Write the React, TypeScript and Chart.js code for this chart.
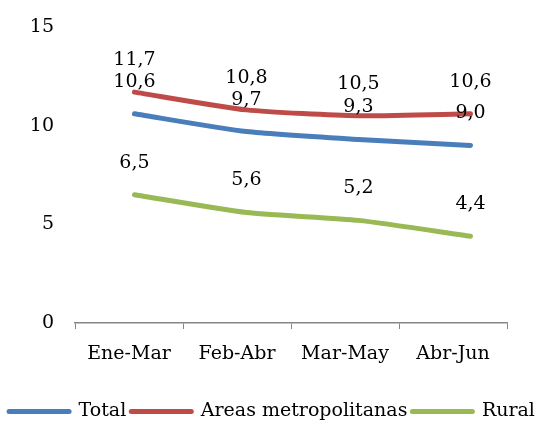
import React, { useEffect, useRef } from "react";
import { Chart, registerables } from "chart.js";

Chart.register(...registerables);

const categories = ["Ene-Mar", "Feb-Abr", "Mar-May", "Abr-Jun"];
const totalValues = [10.6, 9.7, 9.3, 9.0];
const metroValues = [11.7, 10.8, 10.5, 10.6];
const ruralValues = [6.5, 5.6, 5.2, 4.4];
const seriesNames = ["Total", "Areas metropolitanas", "Rural"];
const yTicks = [0, 5, 10, 15];

const FONT = "'DejaVu Serif', serif";
const COLORS = ["#4A7EBB", "#BE4B48", "#98B954"];

const labelPlugin = {
  id: "valueLabels",
  afterDatasetsDraw(chart: any) {
    const ctx = chart.ctx;
    ctx.save();
    ctx.font = `19px ${FONT}`;
    ctx.fillStyle = "#000";
    ctx.textAlign = "center";
    ctx.textBaseline = "middle";
    chart.data.datasets.forEach((ds: any, di: number) => {
      const meta = chart.getDatasetMeta(di);
      meta.data.forEach((el: any, i: number) => {
        const v = ds.data[i].y;
        ctx.fillText(v.toFixed(1).replace(".", ","), el.x, el.y - 32);
      });
    });
    ctx.restore();
  },
};

export default function App() {
  const ref = useRef<HTMLCanvasElement | null>(null);
  useEffect(() => {
    document.body.style.margin = "0";
    const mk = (vals: number[]) => vals.map((v, i) => ({ x: i, y: v }));
    const all = [totalValues, metroValues, ruralValues];
    const chart = new Chart(ref.current!, {
      type: "line",
      data: {
        labels: categories,
        datasets: all.map((vals, k) => ({
          label: seriesNames[k],
          data: mk(vals),
          xAxisID: "x2",
          borderColor: COLORS[k],
          backgroundColor: COLORS[k],
          borderWidth: 5,
          borderCapStyle: "round",
          pointRadius: 0,
          tension: 0.2,
          fill: false,
        })),
      } as any,
      options: {
        animation: false,
        responsive: false,
        layout: { padding: { top: 27, right: 0, left: 0, bottom: -7 } },
        scales: {
          x: {
            type: "category",
            offset: true,
            grid: {
              display: true,
              drawOnChartArea: false,
              drawTicks: true,
              tickLength: 6,
              color: "#868686",
              offset: true,
            },
            border: { display: true, color: "#868686", width: 1.5 },
            ticks: { color: "#000", font: { family: FONT, size: 19 }, padding: 14 },
            afterFit: (axis: any) => {
              axis.height = 74;
            },
          },
          x2: {
            type: "linear",
            display: false,
            min: -0.531,
            max: 3.326,
          },
          y: {
            min: 0,
            max: 15,
            grid: { display: false, drawTicks: false },
            border: { display: false },
            afterBuildTicks: (axis: any) => {
              axis.ticks = yTicks.map((v) => ({ value: v }));
            },
            ticks: { color: "#000", font: { family: FONT, size: 19 }, padding: 21 },
            afterFit: (axis: any) => {
              axis.width = 75;
              axis.paddingTop = 0;
              axis.paddingBottom = 0;
            },
          },
          yR: {
            position: "right",
            display: true,
            min: 0,
            max: 15,
            grid: { display: false, drawTicks: false },
            border: { display: false },
            ticks: { display: false },
            afterFit: (axis: any) => {
              axis.width = 37;
              axis.paddingTop = 0;
              axis.paddingBottom = 0;
            },
          },
        },
        plugins: {
          tooltip: { enabled: false },
          legend: {
            position: "bottom",
            labels: {
              color: "#000",
              font: { family: FONT, size: 19 },
              padding: 5,
              usePointStyle: true,
              pointStyleWidth: 60,
              generateLabels: (chart: any) =>
                chart.data.datasets.map((ds: any, i: number) => ({
                  text: ds.label,
                  fillStyle: ds.borderColor,
                  strokeStyle: ds.borderColor,
                  lineWidth: 5,
                  lineCap: "round",
                  pointStyle: "line",
                  datasetIndex: i,
                  hidden: false,
                  fontColor: "#000",
                })),
            },
          },
        },
      } as any,
      plugins: [labelPlugin],
    });
    return () => chart.destroy();
  }, []);
  return <canvas ref={ref} width={544} height={424} style={{ display: "block" }} />;
}
